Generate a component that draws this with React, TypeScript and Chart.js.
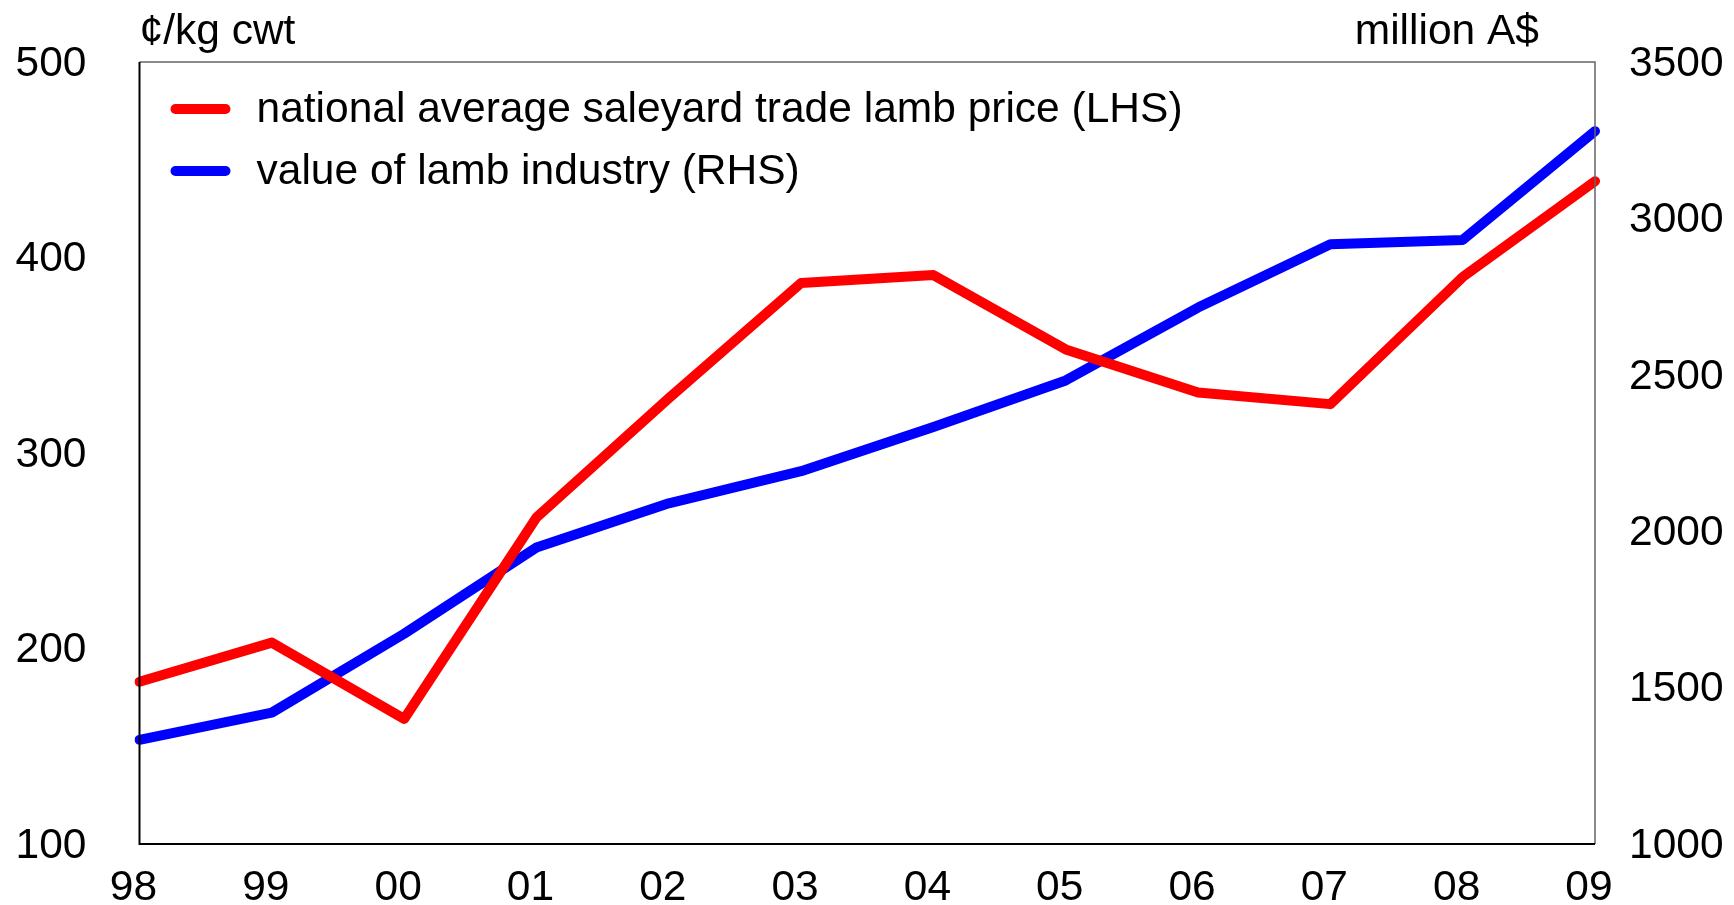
import React, { useEffect, useRef } from "react";
import { Chart, registerables } from "chart.js";

Chart.register(...registerables);

const years = ["98", "99", "00", "01", "02", "03", "04", "05", "06", "07", "08", "09"];
const lambPrice = [183, 203, 164, 267, 328, 387, 391, 353, 331, 325, 390, 439];
const industryValue = [1333, 1420, 1672, 1948, 2089, 2192, 2333, 2482, 2715, 2917, 2931, 3279];
const leftTicks = [100, 200, 300, 400, 500];
const rightTicks = [1000, 1500, 2000, 2500, 3000, 3500];
const leftUnit = "¢/kg cwt";
const rightUnit = "million A$";
const priceLabel = "national average saleyard trade lamb price (LHS)";
const valueLabel = "value of lamb industry (RHS)";

const FONT = "'Liberation Sans', Arial, sans-serif";
const FS = 42.5;

const decorPlugin = {
  id: "decor",
  afterDatasetsDraw(chart: any) {
    const { ctx, chartArea } = chart;
    const { left, right, top, bottom } = chartArea;
    ctx.save();
    // frame
    ctx.lineWidth = 1.5;
    ctx.strokeStyle = "#666666";
    ctx.beginPath();
    ctx.moveTo(left, top);
    ctx.lineTo(right, top);
    ctx.lineTo(right, bottom);
    ctx.stroke();
    ctx.strokeStyle = "#000000";
    ctx.lineWidth = 2;
    ctx.beginPath();
    ctx.moveTo(left, top);
    ctx.lineTo(left, bottom);
    ctx.lineTo(right, bottom);
    ctx.stroke();
    // unit titles
    ctx.fillStyle = "#000";
    ctx.font = `${FS}px ${FONT}`;
    ctx.textBaseline = "middle";
    ctx.textAlign = "left";
    ctx.fillText(leftUnit, left, top - 30);
    ctx.textAlign = "right";
    ctx.fillText(rightUnit, right - 56, top - 30);
    // legend
    const items = chart.data.datasets.map((d: any) => ({ label: d.label, color: d.borderColor }));
    items.forEach((it: any, i: number) => {
      const y = top + 47 + i * 62;
      ctx.strokeStyle = it.color;
      ctx.lineWidth = 10;
      ctx.lineCap = "round";
      ctx.beginPath();
      ctx.moveTo(left + 36, y);
      ctx.lineTo(left + 86, y);
      ctx.stroke();
      ctx.fillStyle = "#000";
      ctx.textAlign = "left";
      ctx.textBaseline = "middle";
      ctx.fillText(it.label, left + 117, y + 1);
    });
    ctx.restore();
  },
};

const noPad = (scale: any) => {
  scale.paddingTop = 0;
  scale.paddingBottom = 0;
  scale.paddingLeft = 0;
  scale.paddingRight = 0;
};

export default function App() {
  const ref = useRef<HTMLCanvasElement>(null);
  useEffect(() => {
    document.body.style.margin = "0";
    const chart = new Chart(ref.current!, {
      type: "line",
      data: {
        labels: years,
        datasets: [
          {
            label: priceLabel,
            data: lambPrice,
            borderColor: "#FF0000",
            backgroundColor: "#FF0000",
            borderWidth: 10,
            pointRadius: 0,
            borderCapStyle: "round",
            borderJoinStyle: "round",
            yAxisID: "y",
            tension: 0,
          },
          {
            label: valueLabel,
            data: industryValue,
            borderColor: "#0000FF",
            backgroundColor: "#0000FF",
            borderWidth: 10,
            pointRadius: 0,
            borderCapStyle: "round",
            borderJoinStyle: "round",
            yAxisID: "y1",
            tension: 0,
          },
        ],
      },
      options: {
        animation: false,
        responsive: false,
        devicePixelRatio: 1,
        layout: { padding: { top: 62, left: 0, right: 0, bottom: 0 } },
        plugins: { legend: { display: false }, tooltip: { enabled: false } },
        scales: {
          x: {
            offset: false,
            grid: { display: false, drawTicks: false },
            border: { display: false },
            ticks: {
              font: { family: FONT, size: FS },
              color: "#000",
              padding: 19,
              labelOffset: -6,
              maxRotation: 0,
              autoSkip: false,
            },
            afterFit(scale: any) {
              scale.height = 61;
              noPad(scale);
            },
          },
          y: {
            position: "left",
            min: leftTicks[0],
            max: leftTicks[leftTicks.length - 1],
            afterBuildTicks(scale: any) {
              scale.ticks = leftTicks.map((v) => ({ value: v }));
            },
            grid: { display: false, drawTicks: false },
            border: { display: false },
            ticks: {
              font: { family: FONT, size: FS },
              color: "#000",
              padding: 53,
              labelOffset: 2,
              callback: (v: any) => String(v),
            },
            afterFit(scale: any) {
              scale.width = 139.5;
              noPad(scale);
            },
          },
          y1: {
            position: "right",
            min: rightTicks[0],
            max: rightTicks[rightTicks.length - 1],
            afterBuildTicks(scale: any) {
              scale.ticks = rightTicks.map((v) => ({ value: v }));
            },
            grid: { display: false, drawTicks: false },
            border: { display: false },
            ticks: {
              font: { family: FONT, size: FS },
              color: "#000",
              padding: 34,
              labelOffset: 2,
              callback: (v: any) => String(v),
            },
            afterFit(scale: any) {
              scale.width = 139;
              noPad(scale);
            },
          },
        },
      },
      plugins: [decorPlugin],
    });
    return () => chart.destroy();
  }, []);
  return (
    <div style={{ width: 1734, height: 905, background: "#fff" }}>
      <canvas ref={ref} width={1734} height={905} />
    </div>
  );
}
